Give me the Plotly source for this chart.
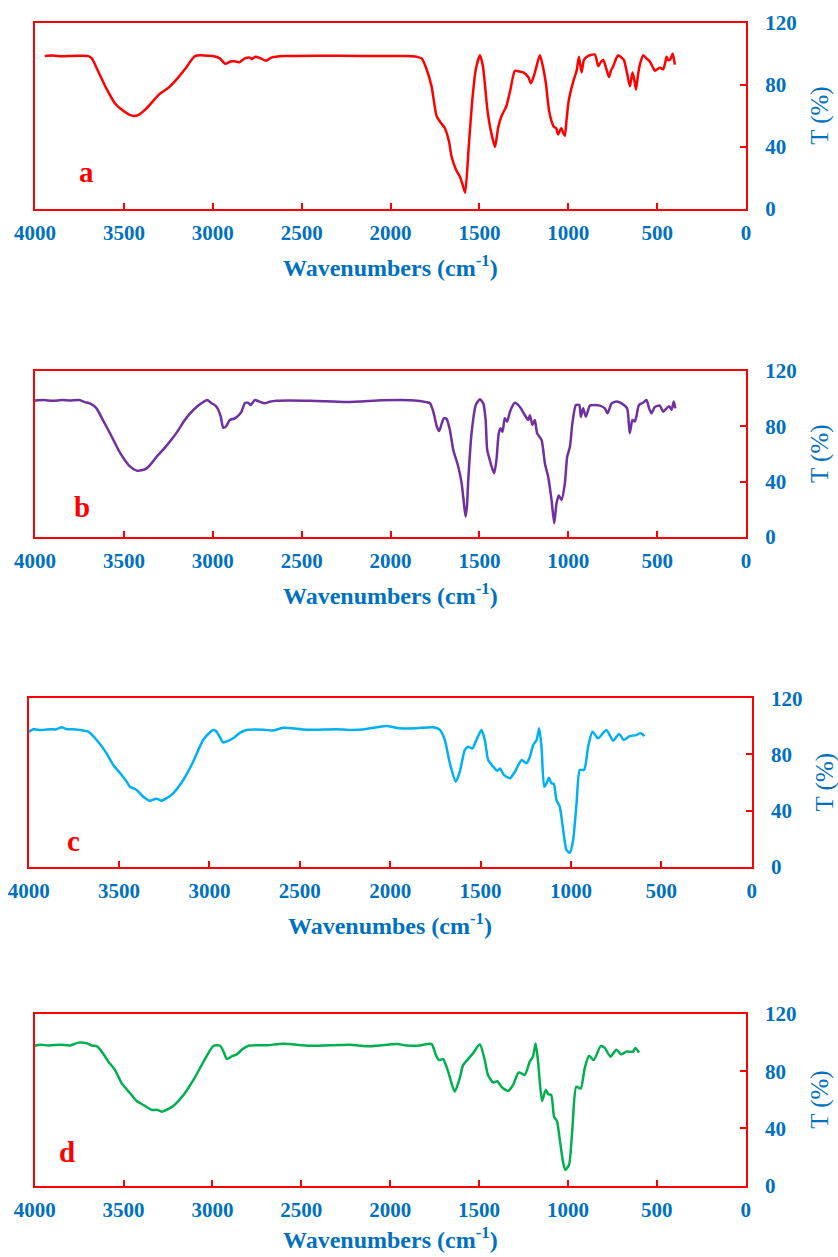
import plotly.graph_objects as go

# ---------------- data ----------------
wn_a = [3945, 3900, 3850, 3800, 3750, 3700, 3680, 3650, 3600, 3550, 3500, 3450, 3420, 3380, 3340, 3300,
        3250, 3200, 3150, 3100, 3000, 2960, 2930, 2900, 2870, 2850, 2820, 2790, 2780, 2760, 2730, 2700,
        2670, 2600, 2300, 2000, 1900, 1850, 1825, 1800, 1769, 1741, 1720, 1694, 1670, 1657, 1630, 1610,
        1595, 1580, 1560, 1540, 1520, 1497, 1480, 1455, 1435, 1412, 1395, 1375, 1349, 1327, 1300, 1275,
        1253, 1225, 1210, 1190, 1160, 1145, 1126, 1109, 1095, 1081, 1068, 1057, 1045, 1038, 1028, 1019,
        1010, 997, 972, 953, 940, 925, 912, 895, 878, 850, 831, 815, 803, 785, 771, 760, 747, 730, 719,
        700, 687, 670, 653, 645, 638, 628, 619, 608, 597, 578, 560, 541, 525, 513, 500, 485, 466, 455,
        447, 438, 428, 420, 413, 406, 400]
t_a = [98.5, 98.8, 98.4, 98.6, 98.7, 98.5, 97, 90, 78, 68, 63, 60, 60.5, 64, 69, 74,
       78, 84, 91, 98.5, 98.5, 97, 93.5, 95, 95, 94.5, 97, 97.5, 96.5, 98, 97, 95.5,
       97.5, 98.5, 98.7, 98.5, 98.5, 98, 97, 91, 79, 60, 56, 52, 43, 34, 25, 21,
       16, 10.5, 40, 70, 90, 99, 92, 64, 50, 40, 52, 60, 66, 76, 89, 88.5,
       88, 85, 81, 87, 99, 93, 81, 64, 57, 53, 52, 48, 51, 52, 49, 47,
       57, 70, 82, 89, 98, 88, 96, 98, 99, 99.5, 92, 95, 96, 90, 85, 89, 92, 97, 99,
       97.5, 96, 88, 79, 84, 88, 83, 77, 86, 93, 99, 97, 95, 91.5, 89, 90, 91, 90, 94,
       98, 96, 96, 98, 100, 97, 93]

wn_b = [4000, 3950, 3900, 3850, 3800, 3750, 3720, 3691, 3654, 3620, 3578, 3522, 3466, 3428, 3400, 3372,
        3340, 3316, 3280, 3241, 3200, 3166, 3130, 3091, 3060, 3031, 3010, 2985, 2969, 2955, 2941, 2925,
        2904, 2880, 2866, 2838, 2820, 2800, 2787, 2763, 2740, 2707, 2680, 2641, 2450, 2247, 2050, 1947,
        1850, 1800, 1778, 1765, 1754, 1740, 1726, 1712, 1700, 1685, 1666, 1647, 1619, 1600, 1590, 1578,
        1570, 1563, 1544, 1520, 1497, 1478, 1465, 1456, 1440, 1431, 1417, 1404, 1391, 1381, 1370, 1357,
        1344, 1328, 1300, 1272, 1244, 1225, 1216, 1201, 1188, 1175, 1150, 1131, 1113, 1094, 1079, 1066,
        1053, 1038, 1019, 1006, 991, 976, 957, 938, 929, 916, 901, 878, 850, 822, 794, 779, 756, 728,
        700, 669, 654, 639, 626, 617, 602, 580, 560, 545, 532, 513, 485, 466, 447, 432, 419, 406, 398]
t_b = [98.7, 99, 98.5, 99, 98.7, 99, 97.5, 96.6, 93, 85, 75, 61, 51, 48, 48.2, 49.6,
       54, 58, 63, 69, 76, 83, 89, 94, 97, 99, 97, 95, 92, 87, 79, 80,
       84.6, 85.5, 86.5, 90.6, 96.6, 97, 95.4, 99, 98, 96.6, 97.8, 98.5, 98.5, 97.6, 98.8, 99,
       98.5, 97.5, 96.7, 93, 88, 80, 76.6, 82, 85.8, 85.5, 77.4, 63, 51, 39, 28, 14.7,
       22, 40, 75, 95.4, 99.5, 96.6, 85, 63, 55, 50.8, 46, 55.7, 75, 78.6, 76, 85.8,
       83.4, 90.6, 97, 94, 88, 84.6, 88, 81, 84.6, 75, 70, 53, 43.6, 26.8, 10, 24.4,
       30, 26.8, 38.8, 58, 65, 83, 95.4, 95.4, 87, 93, 87, 95, 95.5, 95, 93, 89.4, 96.6, 98,
       96.6, 93, 75, 84.6, 83.4, 87, 95.4, 97, 99, 93, 89.4, 94, 95, 90.6, 93, 94.5, 92, 98, 93]

wn_c = [4000, 3974, 3950, 3919, 3880, 3850, 3818, 3790, 3762, 3720, 3670, 3624, 3569, 3532, 3486, 3460,
        3440, 3403, 3366, 3330, 3293, 3265, 3235, 3201, 3145, 3090, 3035, 2995, 2980, 2965, 2952, 2924,
        2900, 2869, 2830, 2795, 2700, 2648, 2593, 2464, 2300, 2224, 2150, 2021, 1950, 1855, 1762, 1725,
        1698, 1670, 1637, 1615, 1587, 1569, 1545, 1523, 1495, 1476, 1458, 1430, 1408, 1393, 1371, 1338,
        1310, 1273, 1246, 1227, 1209, 1190, 1176, 1163, 1148, 1135, 1122, 1108, 1095, 1080, 1062, 1043,
        1025, 1006, 988, 969, 951, 927, 905, 881, 850, 804, 767, 734, 708, 675, 638, 620, 605, 595]
t_c = [96.2, 98, 97.6, 97.5, 98, 97.8, 99.3, 98, 98, 97.5, 96.2, 90.3, 80.8, 72.5, 65.4, 61,
       57, 54.7, 49.9, 47, 48.5, 47, 49, 52.3, 61.8, 74.8, 90.3, 96, 97.4, 96.8, 94.6, 88.6,
       89.5, 91.5, 95.5, 97.4, 97.6, 97, 99, 97.6, 98, 97.5, 97.8, 100.3, 98.6, 98.7, 99.3, 97.5,
       90.3, 73.7, 60.6, 67.7, 83.2, 85.5, 84.3, 90.3, 97.4, 90, 76, 71.3, 68.4, 70, 65.4, 63,
       67.7, 76, 73.7, 78.4, 86.7, 90.3, 98.6, 85.5, 57, 59.4, 63.4, 59.4, 59, 47.5, 42.8, 26.2,
       12, 10, 19, 45, 69, 69, 85.5, 96.2, 91.5, 97.4, 89.8, 94.6, 90.3, 93, 93.8, 95, 94.5, 93]

wn_d = [4000, 3970, 3920, 3857, 3800, 3754, 3707, 3680, 3651, 3623, 3585, 3548, 3510, 3463, 3426, 3388,
        3341, 3310, 3285, 3250, 3219, 3163, 3107, 3050, 2994, 2957, 2935, 2919, 2890, 2863, 2830, 2797,
        2694, 2600, 2450, 2225, 2131, 1962, 1906, 1834, 1768, 1743, 1725, 1702, 1674, 1637, 1609, 1590,
        1562, 1534, 1496, 1468, 1450, 1421, 1397, 1375, 1337, 1309, 1277, 1243, 1215, 1197, 1182, 1168,
        1146, 1125, 1110, 1094, 1078, 1062, 1047, 1028, 1015, 994, 975, 953, 928, 906, 881, 855, 816,
        793, 761, 728, 700, 671, 634, 621, 600]
t_d = [97.8, 98.5, 98, 98.5, 98, 100, 99.5, 98, 97.5, 93.7, 86.7, 80.8, 71.5, 64.6, 59.2, 56.4,
       52.9, 53, 51.7, 53.5, 55.9, 63.4, 73.9, 86.7, 97.8, 97.8, 93, 88.5, 90.5, 91.8, 95.5, 97.8,
       98.2, 99.2, 97.8, 98.5, 97.4, 99, 98, 98, 99.1, 91.3, 87.8, 88.5, 79.7, 65.7, 75, 84.3,
       88.5, 92.5, 98.8, 87.8, 77.4, 72.2, 73, 69.2, 66.2, 70.4, 79.2, 77.4, 86.7, 90.2, 99.3, 86.7,
       59.2, 66.9, 63.9, 63.4, 48.2, 45.2, 33.1, 16.8, 11, 14.5, 40.1, 69.2, 67.9, 82, 90.8, 87.8, 97.5,
       96.3, 90.2, 95, 91.8, 93.7, 93.7, 96.3, 93]

panel_labels = ["a", "b", "c", "d"]
x_titles = ["Wavenumbers (cm<sup>-1</sup>)", "Wavenumbers (cm<sup>-1</sup>)",
            "Wavenumbes (cm<sup>-1</sup>)", "Wavenumbers (cm<sup>-1</sup>)"]
y_title = "T (%)"
x_ticks = [4000, 3500, 3000, 2500, 2000, 1500, 1000, 500, 0]
y_ticks = [0, 40, 80, 120]

# ---------------- styling / layout ----------------
W, H = 838, 1257
series = [(wn_a, t_a, "#FF0000"), (wn_b, t_b, "#7030A0"),
          (wn_c, t_c, "#00B0F0"), (wn_d, t_d, "#00B050")]
# pixel boxes of each panel: left, right, top, bottom
boxes = [(35, 746, 22.7, 209), (35, 746, 371, 537),
         (28.7, 751.7, 698.3, 866.7), (34.7, 745.7, 1014, 1185.7)]
letter_pos = [(86, 172), (82, 507), (73, 841), (67, 1152)]
xtitle_y = [266, 594, 924, 1238]
ytitle_x = [820, 820, 824, 820]

BLUE = "#0070C0"
FONT = "Liberation Serif"

fig = go.Figure()
layout = dict(width=W, height=H, margin=dict(l=0, r=0, t=0, b=0),
              paper_bgcolor="white", plot_bgcolor="white", showlegend=False,
              font=dict(family=FONT, color=BLUE))
annotations = []

for i, ((wn, tr, col), (l, r, t, b)) in enumerate(zip(series, boxes)):
    n = "" if i == 0 else str(i + 1)
    fig.add_trace(go.Scatter(x=wn, y=tr, mode="lines",
                             line=dict(color=col, width=2.5, shape="spline", smoothing=0.6),
                             xaxis="x" + n, yaxis="y" + n, hoverinfo="skip"))
    layout["xaxis" + n] = dict(
        domain=[l / W, r / W], range=[4000, 0], anchor="y" + n, automargin=False,
        tickvals=x_ticks, ticktext=["<b>%d</b>" % v for v in x_ticks],
        ticks="inside", ticklen=6, tickwidth=2, tickcolor="#FF0000",
        showline=True, linecolor="#FF0000", linewidth=2, mirror=True,
        showgrid=False, zeroline=False, ticklabelstandoff=4,
        tickfont=dict(family=FONT, size=21, color=BLUE))
    layout["yaxis" + n] = dict(
        domain=[1 - b / H, 1 - t / H], range=[0, 120], anchor="x" + n, side="right",
        automargin=False,
        tickvals=y_ticks, ticktext=["<b>%d</b>" % v for v in y_ticks],
        ticks="inside", ticklen=6, tickwidth=2, tickcolor="#FF0000",
        showline=True, linecolor="#FF0000", linewidth=2, mirror=True,
        showgrid=False, zeroline=False, ticklabelstandoff=13,
        tickfont=dict(family=FONT, size=21, color=BLUE))
    annotations.append(dict(text="<b>%s</b>" % x_titles[i], xref="paper", yref="paper",
                            x=(l + r) / 2 / W, y=1 - xtitle_y[i] / H, showarrow=False,
                            xanchor="center", yanchor="middle",
                            font=dict(family=FONT, size=24, color=BLUE)))
    annotations.append(dict(text=y_title, xref="paper", yref="paper", textangle=-90,
                            x=ytitle_x[i] / W, y=1 - (t + b) / 2 / H, showarrow=False,
                            xanchor="center", yanchor="middle",
                            font=dict(family=FONT, size=25, color=BLUE)))
    lx, ly = letter_pos[i]
    annotations.append(dict(text="<b>%s</b>" % panel_labels[i], xref="paper", yref="paper",
                            x=lx / W, y=1 - ly / H, showarrow=False,
                            xanchor="center", yanchor="middle",
                            font=dict(family=FONT, size=29, color="#FF0000")))

layout["annotations"] = annotations
fig.update_layout(**layout)
fig.write_html("out.html")
